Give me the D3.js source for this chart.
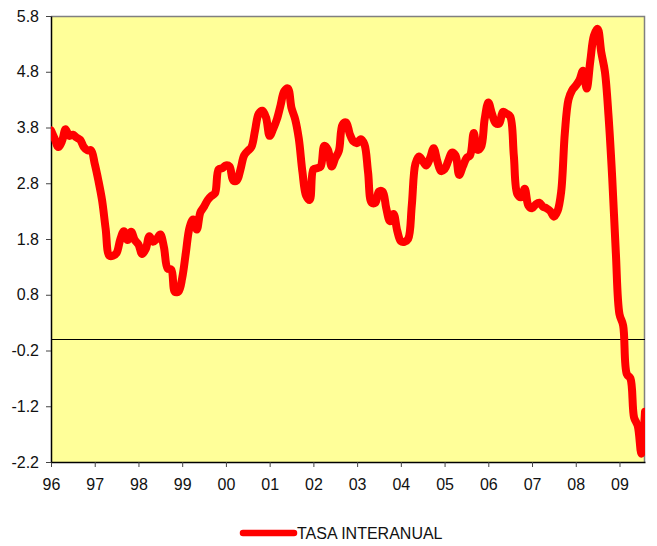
<!DOCTYPE html>
<html>
<head>
<meta charset="utf-8">
<script src="https://cdn.jsdelivr.net/npm/d3@7"></script>
<style>
  body { margin: 0; background: #fff; }
  text { font-family: "Liberation Sans", Arial, sans-serif; }
</style>
</head>
<body>
<div id="chart"></div>
<script>
// year labels, one every 12 months starting at Jan 1996
const yearLabels = ["96","97","98","99","00","01","02","03","04","05","06","07","08","09"];
const yTicks = [-2.2, -1.2, -0.2, 0.8, 1.8, 2.8, 3.8, 4.8, 5.8];
const seriesName = "TASA INTERANUAL";
// monthly values, Jan 1996 .. Aug 2009
const tasaInteranual = [
  3.75, 3.6, 3.45, 3.55, 3.77, 3.65, 3.67, 3.62, 3.58, 3.45,
  3.39, 3.39, 3.15, 2.85, 2.5, 1.98, 1.5, 1.5, 1.55, 1.79,
  1.94, 1.78, 1.93, 1.78, 1.70, 1.53, 1.62, 1.85, 1.75, 1.8,
  1.88, 1.65, 1.27, 1.25, 0.85, 0.86, 1.1, 1.55, 2.0, 2.15,
  1.97, 2.28, 2.38, 2.5, 2.57, 2.62, 3.05, 3.07, 3.12, 3.1,
  2.85, 2.85, 3.05, 3.3, 3.38, 3.45, 3.75, 4.05, 4.1, 3.98,
  3.65, 3.78, 3.95, 4.2, 4.45, 4.5, 4.15, 3.95, 3.6, 3.0,
  2.58, 2.5, 3.05, 3.07, 3.1, 3.47, 3.4, 3.1, 3.25, 3.38,
  3.85, 3.89, 3.68, 3.55, 3.52, 3.59, 3.5, 3.0, 2.45, 2.45,
  2.65, 2.65, 2.35, 2.12, 2.25, 1.95, 1.76, 1.75, 1.8, 2.4,
  3.15, 3.28, 3.2, 3.12, 3.25, 3.43, 3.2, 3.02, 3.05, 3.2,
  3.35, 3.3, 2.95, 3.1, 3.25, 3.3, 3.7, 3.4, 3.45, 3.95,
  4.25, 4.05, 3.88, 3.87, 4.08, 4.05, 4.0, 3.3, 2.6, 2.55,
  2.7, 2.4, 2.35, 2.42, 2.45, 2.38, 2.35, 2.3, 2.2, 2.3,
  2.65, 3.7, 4.3, 4.47, 4.55, 4.65, 4.82, 4.5, 5.0, 5.45,
  5.57, 5.15, 4.8, 4.0, 2.9, 1.55, 0.45, 0.25, -0.62, -0.7,
  -1.4, -1.55, -2.05, -1.3
];

const margin = {top: 16, right: 12, bottom: 84, left: 51};
const totalW = 657, totalH = 546;
const width = totalW - margin.left - margin.right;
const height = totalH - margin.top - margin.bottom;

const svg = d3.select("#chart").append("svg")
    .attr("width", totalW)
    .attr("height", totalH);

const g = svg.append("g")
    .attr("transform", "translate(" + margin.left + "," + margin.top + ")");

const xScale = d3.scaleLinear().domain([0, tasaInteranual.length - 1]).range([0, width]);
const yScale = d3.scaleLinear().domain([-2.2, 5.8]).range([height, 0]);

// plot background
g.append("rect")
    .attr("width", width)
    .attr("height", height)
    .attr("fill", "#ffff99");

// gray frame on top and right
g.append("path")
    .attr("d", "M0,0.5H" + (width - 0.5) + "V" + height)
    .attr("fill", "none")
    .attr("stroke", "#808080")
    .attr("stroke-width", 1.5);

// zero line
g.append("line")
    .attr("x1", 0).attr("x2", width)
    .attr("y1", Math.round(yScale(0)) + 0.5).attr("y2", Math.round(yScale(0)) + 0.5)
    .attr("stroke", "#000")
    .attr("stroke-width", 1);

// axes
const xAxis = d3.axisBottom(xScale)
    .tickValues(yearLabels.map((d, i) => i * 12))
    .tickFormat((d, i) => yearLabels[i])
    .tickSize(5)
    .tickPadding(12)
    .tickSizeOuter(0);

const yAxis = d3.axisLeft(yScale)
    .tickValues(yTicks)
    .tickFormat(d => d3.format(".1f")(d).replace("\u2212", "-"))
    .tickSize(5)
    .tickPadding(7)
    .tickSizeOuter(0);

const xG = g.append("g")
    .attr("transform", "translate(0," + height + ")")
    .call(xAxis);
const yG = g.append("g").call(yAxis);

[xG, yG].forEach(a => {
    a.select(".domain").attr("stroke", "#000").attr("stroke-width", 1.5);
    a.selectAll(".tick line").attr("stroke", "#444");
    a.selectAll(".tick text")
        .attr("fill", "#111")
        .style("font-size", "16px")
        .style("font-family", "'Liberation Sans', Arial, sans-serif");
});

// clip line to plot area
g.append("clipPath").attr("id", "plotClip")
    .append("rect").attr("width", width).attr("height", height);

const line = d3.line()
    .x((d, i) => xScale(i))
    .y(d => yScale(d))
    .curve(d3.curveCatmullRom.alpha(0.5));

g.append("path")
    .datum(tasaInteranual)
    .attr("clip-path", "url(#plotClip)")
    .attr("fill", "none")
    .attr("stroke", "#ff0000")
    .attr("stroke-width", 8)
    .attr("stroke-linejoin", "round")
    .attr("stroke-linecap", "round")
    .attr("d", line);

// legend
const legend = svg.append("g").attr("transform", "translate(240,533)");
legend.append("line")
    .attr("x1", 3).attr("x2", 54)
    .attr("y1", 0).attr("y2", 0)
    .attr("stroke", "#ff0000")
    .attr("stroke-width", 6.5)
    .attr("stroke-linecap", "round");
legend.append("text")
    .attr("x", 57)
    .attr("y", 6)
    .style("font-size", "16px")
    .attr("fill", "#111")
    .text(seriesName);
</script>
</body>
</html>
